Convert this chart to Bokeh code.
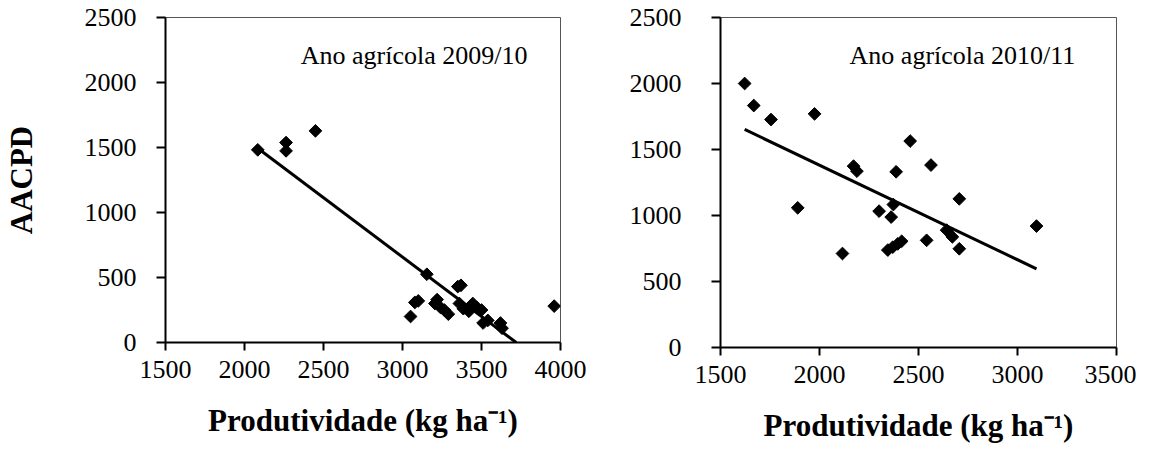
import math
from bokeh.plotting import figure
from bokeh.layouts import row
from bokeh.models import Range1d, SingleIntervalTicker, Label
from bokeh.embed import file_html
from bokeh.resources import INLINE

# ---- Ano agrícola 2009/10 ----
prod_0910 = [2084, 2263, 2263, 2449, 3154, 3051, 3078, 3100, 3205, 3219, 3240, 3265,
             3290, 3350, 3370, 3360, 3385, 3420, 3445, 3470, 3500, 3510, 3540, 3620,
             3630, 3960]
aacpd_0910 = [1482, 1538, 1474, 1628, 525, 200, 308, 320, 300, 330, 270, 250,
              218, 430, 440, 300, 260, 240, 300, 270, 250, 150, 170, 150,
              110, 280]
trend_0910_x = [2090, 3720]
trend_0910_y = [1488, 0]

# ---- Ano agrícola 2010/11 ----
prod_1011 = [1622, 1668, 1755, 1975, 1890, 2116, 2172, 2189, 2301, 2362, 2373, 2387,
             2458, 2563, 2345, 2370, 2395, 2415, 2541, 2642, 2671, 2706, 2706, 3096]
aacpd_1011 = [2000, 1833, 1727, 1770, 1058, 712, 1374, 1336, 1033, 988, 1083, 1331,
              1564, 1382, 738, 760, 785, 805, 812, 889, 838, 1126, 748, 920]
trend_1011_x = [1622, 3096]
trend_1011_y = [1652, 596]

titles = ["Ano agrícola 2009/10", "Ano agrícola 2010/11"]
x_title = "Produtividade (kg ha\u207b\u00b9)"
y_title = "AACPD"

FONT = "Liberation Serif"


def make_panel(px, py, tx, ty, xr, title, label_pos, frame_w, frame_h,
               mb_left, mb_right, mb_top, mb_bottom, ytitle, ystand):
    p = figure(frame_width=frame_w, frame_height=frame_h,
               x_range=Range1d(*xr), y_range=Range1d(0, 2500),
               output_backend="svg", toolbar_location=None,
               min_border_left=mb_left, min_border_right=mb_right,
               min_border_top=mb_top, min_border_bottom=mb_bottom,
               background_fill_color="white", border_fill_color="white")
    p.grid.grid_line_color = None
    p.outline_line_color = "#555555"
    p.outline_line_width = 1
    p.axis.ticker = SingleIntervalTicker(interval=500)
    p.axis.axis_line_width = 2
    p.axis.axis_line_color = "black"
    p.axis.major_tick_line_width = 2
    p.axis.major_tick_line_color = "black"
    p.axis.major_tick_in = 0
    p.axis.minor_tick_line_color = None
    p.axis.major_label_text_font = FONT
    p.axis.major_label_text_font_size = "26px"
    p.axis.major_label_text_color = "black"
    p.axis.axis_label_text_font = FONT
    p.axis.axis_label_text_font_size = "31px"
    p.axis.axis_label_text_font_style = "bold"
    p.axis.axis_label_text_color = "black"
    p.xaxis.major_tick_out = 8
    p.yaxis.major_tick_out = 9
    p.xaxis.major_label_standoff = 10
    p.yaxis.major_label_standoff = ystand
    p.xaxis.axis_label = x_title
    p.xaxis.axis_label_standoff = 22
    if ytitle:
        p.yaxis.axis_label = ytitle
        p.yaxis.axis_label_standoff = 43

    p.line(tx, ty, line_color="black", line_width=3)
    p.scatter(px, py, marker="square", size=9, angle=math.pi / 4,
              fill_color="black", line_color="black")
    p.add_layout(Label(x=label_pos[0], y=label_pos[1], text=title,
                       text_font=FONT, text_font_size="26px",
                       text_color="black", text_baseline="alphabetic"))
    return p


p1 = make_panel(prod_0910, aacpd_0910, trend_0910_x, trend_0910_y, (1500, 4000),
                titles[0], (2356, 2208), 395, 325, 159, 46, 17, 100, y_title, 20)
p2 = make_panel(prod_1011, aacpd_1011, trend_1011_x, trend_1011_y, (1500, 3500),
                titles[1], (2152, 2210), 396, 330, 114, 20, 17, 95, None, 30)

layout = row(p1, p2)
open("out.html", "w").write(file_html(layout, INLINE))
